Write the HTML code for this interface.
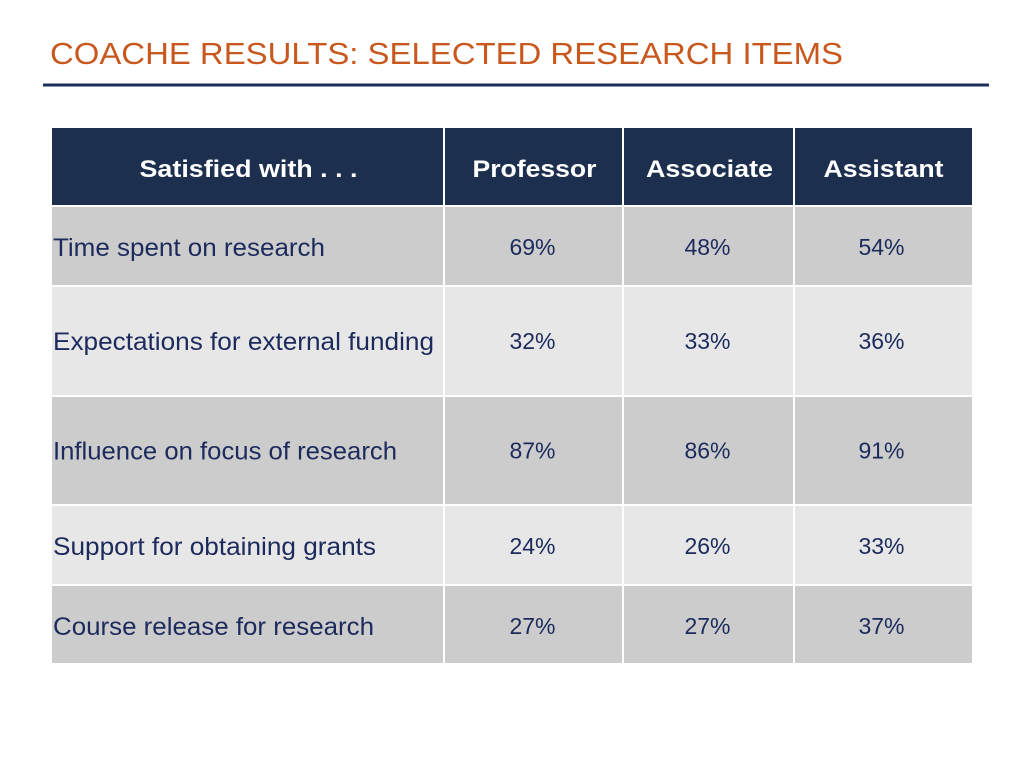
<!DOCTYPE html>
<html><head><meta charset="utf-8"><style>
body{margin:0;background:#fff;width:1024px;height:768px;overflow:hidden;font-family:"Liberation Sans",sans-serif}
</style></head><body>
<svg id="s" width="1024" height="768" viewBox="0 0 1024 768">
<text x="50" y="64" fill="#c8581e" font-size="31" textLength="793" lengthAdjust="spacingAndGlyphs">COACHE RESULTS: SELECTED RESEARCH ITEMS</text>
<rect x="43" y="83.5" width="946" height="3" fill="#1c2f5a"/>
<g id="t"></g>
</svg>
<script>
const headers=["Satisfied with . . .","Professor","Associate","Assistant"];
const items=["Time spent on research","Expectations for external funding","Influence on focus of research","Support for obtaining grants","Course release for research"];
const professor=[69,32,87,24,27];
const associate=[48,33,86,26,27];
const assistant=[54,36,91,33,37];
const NS="http://www.w3.org/2000/svg";
const g=document.getElementById('t');
const colX=[52,445,624,795,972];
const rowY=[128,207,287,397,506,586,665];
const labelW=[272,0,0,0];
const itemW=[272,381,344,323,321];
const headW=[218,124,127,120];
function mk(tag,attrs){const e=document.createElementNS(NS,tag);for(const k in attrs)e.setAttribute(k,attrs[k]);g.appendChild(e);return e;}
for(let c=0;c<4;c++){
  const r=mk('rect',{x:colX[c],y:rowY[0],width:colX[c+1]-colX[c]-(c<3?2:0),height:rowY[1]-rowY[0]-2,fill:'#1d2f4f'});
  
  
  const t=mk('text',{x:(colX[c]+colX[c+1])/2,y:177,'text-anchor':'middle',fill:'#fff','font-size':24,'font-weight':'bold',textLength:headW[c],lengthAdjust:'spacingAndGlyphs'});
  t.textContent=headers[c];
  
  
}
const series=[professor,associate,assistant];
for(let i=0;i<items.length;i++){
  const y0=rowY[i+1],y1=rowY[i+2]-2;
  const fill=i%2==0?'#cccccc':'#e7e7e7';
  const ty=(i==0||i>=3)?y0+49:(y0+y1)/2+9;
  for(let c=0;c<4;c++){
    const r=mk('rect',{x:colX[c],y:y0,width:colX[c+1]-colX[c]-(c<3?2:0),height:y1-y0,fill:fill});
    
    
  }
  const lt=mk('text',{x:53,y:ty,fill:'#1c2a5c','font-size':25,textLength:itemW[i],lengthAdjust:'spacingAndGlyphs'});
  lt.textContent=items[i];
  
  
  for(let c=0;c<3;c++){
    const vt=mk('text',{x:(colX[c+1]+colX[c+2])/2-2,y:(i==0||i>=3)?y0+48:ty-1,'text-anchor':'middle',fill:'#1c2a5c','font-size':23});
    vt.textContent=series[c][i]+'%';
    
    
  }
}
</script>
</body></html>
